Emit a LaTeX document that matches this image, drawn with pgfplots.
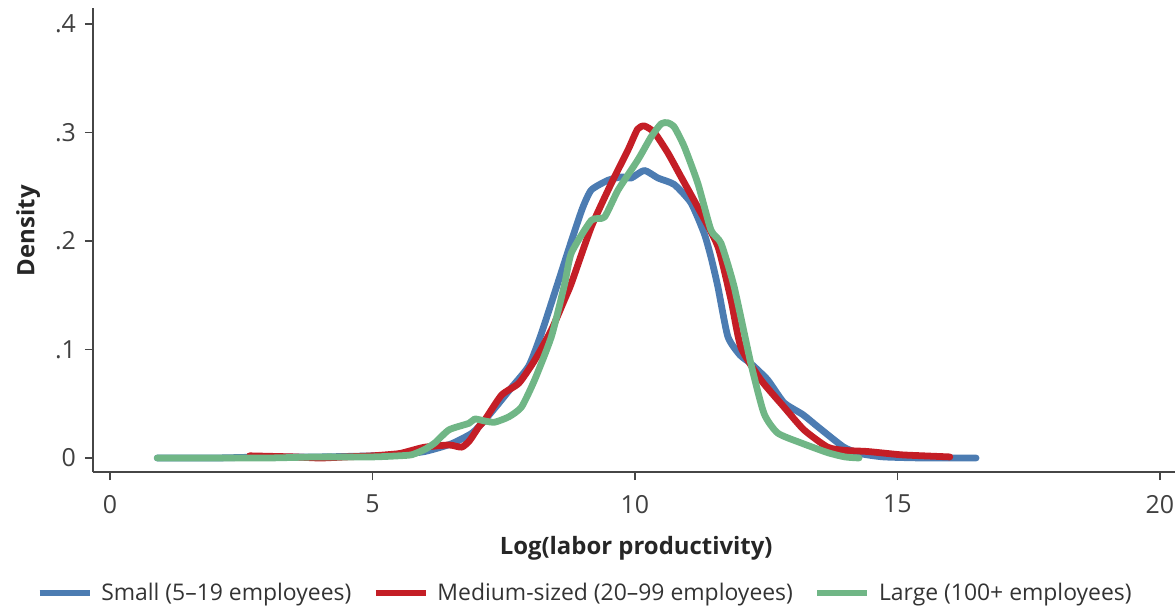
\documentclass[border=0pt]{standalone}
\usepackage{pgfplots}
\pgfplotsset{compat=1.18}
\usepackage{fontspec}
\setmainfont{Open Sans}

\definecolor{smallc}{RGB}{76,124,178}
\definecolor{medc}{RGB}{196,30,38}
\definecolor{largec}{RGB}{112,182,134}
\definecolor{axisc}{RGB}{70,70,70}

% Kernel density of log labor productivity by firm size
\pgfplotstableread{
x y
0.9 0
2.0 0.000
3.0 0.001
4.0 0.001
5.0 0.002
5.5 0.003
6.0 0.006
6.5 0.013
6.9 0.023
7.14 0.035
7.4 0.050
7.65 0.065
7.98 0.085
8.22 0.115
8.55 0.164
8.79 0.200
9.0 0.230
9.17 0.247
9.49 0.256
9.75 0.259
9.93 0.258
10.18 0.265
10.44 0.258
10.75 0.252
11.07 0.235
11.32 0.207
11.45 0.185
11.58 0.158
11.77 0.112
12.0 0.095
12.21 0.087
12.53 0.072
12.84 0.051
13.2 0.040
13.48 0.029
13.98 0.010
14.3 0.004
14.74 0.001
15.5 0.000
16.5 0.000
}\smallfirms

\pgfplotstableread{
x y
2.66 0.002
3.5 0.001
4.0 0.000
4.5 0.001
5.0 0.002
5.5 0.004
5.75 0.007
6.0 0.010
6.46 0.012
6.70 0.010
6.85 0.016
7.03 0.029
7.14 0.035
7.46 0.058
7.79 0.069
8.09 0.090
8.41 0.118
8.66 0.146
8.79 0.161
9.17 0.213
9.55 0.253
9.87 0.284
10.05 0.303
10.18 0.306
10.37 0.300
10.63 0.281
10.88 0.259
11.20 0.231
11.58 0.195
11.83 0.146
12.02 0.102
12.40 0.072
12.84 0.047
13.22 0.026
13.67 0.010
14.0 0.007
14.43 0.006
15.06 0.003
15.5 0.002
16.0 0.001
}\mediumfirms

\pgfplotstableread{
x y
0.9 0
2 0
3 0.000
4 0.001
5 0.001
5.5 0.002
5.75 0.003
6.0 0.008
6.19 0.014
6.46 0.026
6.84 0.032
6.95 0.036
7.15 0.034
7.33 0.033
7.60 0.038
7.84 0.047
8.09 0.072
8.41 0.112
8.66 0.160
8.79 0.189
9.17 0.219
9.42 0.222
9.68 0.247
10.06 0.275
10.31 0.296
10.50 0.308
10.62 0.309
10.75 0.305
10.94 0.287
11.20 0.253
11.45 0.210
11.64 0.198
11.89 0.158
12.21 0.087
12.46 0.041
12.72 0.023
13.16 0.014
13.67 0.005
14.0 0.001
14.27 0.000
}\largefirms

\begin{document}
\begin{tikzpicture}
\useasboundingbox (-46.5bp,-68bp) rectangle (541bp,236bp);
\begin{axis}[
  scale only axis,
  width=541bp, height=232bp,
  xmin=-0.324, xmax=20.29,
  ymin=-0.0129, ymax=0.4147,
  axis lines=left,
  axis line style={-, axisc, line width=0.8pt},
  tick style={axisc, line width=0.8pt},
  tick align=outside,
  major tick length=4bp,
  xtick={0,5,10,15,20},
  ytick={0,0.1,0.2,0.3,0.4},
  yticklabels={0,.1,.2,.3,.4},
  ticklabel style={font=\fontsize{12.5}{14}\selectfont, text=black!75},
  xticklabel style={yshift=-4bp},
  yticklabel style={xshift=-1bp},
  /pgf/number format/assume math mode=true,
  xlabel={\textbf{Log(labor productivity)}},
  ylabel={\textbf{Density}},
  label style={font=\fontsize{12}{14}\selectfont, text=black!85},
  xlabel style={at={(axis description cs:0.502,0)}, anchor=center, yshift=-38bp},
  ylabel style={at={(axis description cs:-0.06,0.52)}, anchor=center},
  legend columns=3,
  legend style={at={(axis description cs:0.456,0)}, anchor=center, yshift=-60.5bp,
    draw=none, fill=none,
    font=\fontsize{11.5}{13}\selectfont, text=black!80,
    /tikz/every odd column/.append style={column sep=2.5bp},
    /tikz/every even column/.append style={column sep=9bp}},
  legend image code/.code={\draw[#1, line width=2.6pt, line cap=butt] (0bp,0bp) -- (25bp,0bp);},
  every axis plot/.append style={line width=3.4pt, line join=round, line cap=round,
    smooth, tension=0.35},
]
\addplot[smallc] table[x=x,y=y] {\smallfirms};
\addlegendentry{Small (5–19 employees)}
\addplot[medc] table[x=x,y=y] {\mediumfirms};
\addlegendentry{Medium-sized (20–99 employees)}
\addplot[largec] table[x=x,y=y] {\largefirms};
\addlegendentry{Large (100+ employees)}
\end{axis}
\end{tikzpicture}
\end{document}
